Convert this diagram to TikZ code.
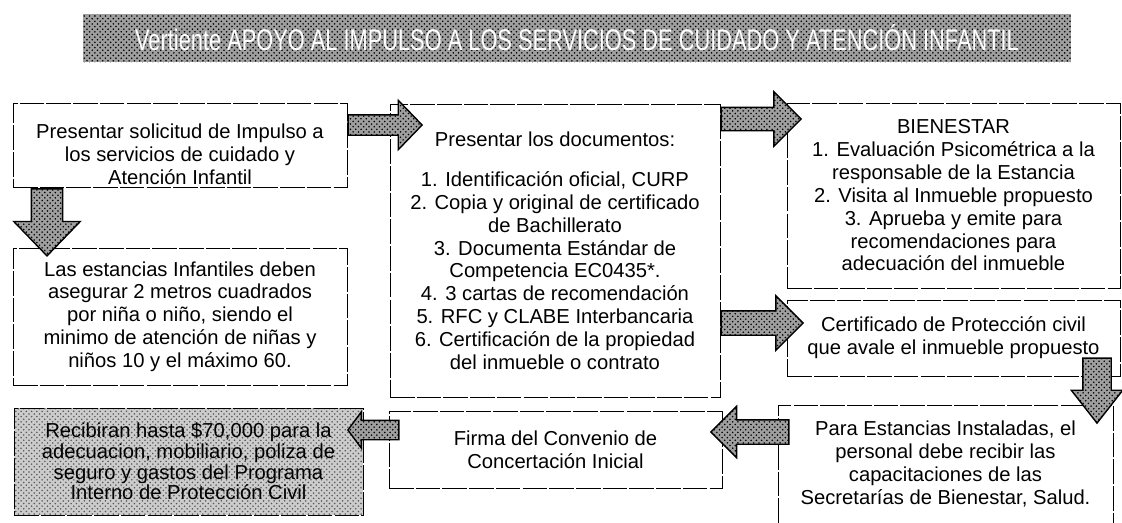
\documentclass[tikz,border=0pt]{standalone}
\usepackage{fontspec}
\setmainfont{Liberation Sans}
\usepackage{tikz}
\usetikzlibrary{shapes.arrows,patterns}

\begin{document}
\begin{tikzpicture}[x=0.02cm,y=-0.02cm,font=\fontsize{11.5}{13}\selectfont,
  paso/.style={draw,line width=0.5pt,dash pattern=on 14pt off 1.2pt,align=center,inner sep=2pt},
  textura/.style={preaction={fill=gray!75},pattern=crosshatch dots,pattern color=black},
  flecha/.style={single arrow,draw,line width=0.8pt,textura,inner sep=0pt,anchor=tail}]
  \clip (0,0) rectangle (1122,522);

  \node[textura,minimum width=19.76cm,minimum height=0.96cm] (t) at (577,38)
    {\scalebox{0.73}[1]{\fontsize{17}{17}\selectfont\color{white}Vertiente APOYO AL IMPULSO A LOS SERVICIOS DE CUIDADO Y ATENCIÓN INFANTIL}};

  \node[paso,minimum width=6.68cm,minimum height=1.66cm] (p1) at (180,145.5)
    {\rule{0pt}{18pt}Presentar solicitud de Impulso a\\los servicios de cuidado y\\Atención Infantil};
  \node[paso,minimum width=6.68cm,minimum height=2.74cm] (p2) at (180,316.5)
    {Las estancias Infantiles deben\\asegurar 2 metros cuadrados\\por niña o niño, siendo el\\minimo de atención de niñas y\\niños 10 y el máximo 60.};
  \node[paso,minimum width=6.6cm,minimum height=5.86cm] (p3) at (555,250.5)
    {Presentar los documentos:\\[10pt]1. Identificación oficial, CURP\\2. Copia y original de certificado\\de Bachillerato\\3. Documenta Estándar de\\Competencia EC0435*.\\4. 3 cartas de recomendación\\5. RFC y CLABE Interbancaria\\6. Certificación de la propiedad\\del inmueble o contrato};
  \node[paso,minimum width=6.66cm,minimum height=3.7cm] (p4) at (953.5,195.5)
    {BIENESTAR\\1. Evaluación Psicométrica a la\\responsable de la Estancia\\2. Visita al Inmueble propuesto\\3. Aprueba y emite para\\recomendaciones para\\adecuación del inmueble};
  \node[paso,minimum width=6.66cm,minimum height=1.52cm] (p5) at (953.5,338)
    {Certificado de Protección civil\\que avale el inmueble propuesto};
  \node[paso,minimum width=6.66cm,minimum height=1.54cm] (p6) at (555.5,449.5)
    {Firma del Convenio de\\Concertación Inicial};
  \node[paso,minimum width=6.7cm,minimum height=2.36cm] (p7) at (945.5,464)
    {Para Estancias Instaladas, el\\personal debe recibir las\\capacitaciones de las\\Secretarías de Bienestar, Salud.};
  \node[paso,textura,preaction={fill=gray!40},pattern color=black!65,minimum width=6.98cm,minimum height=2.14cm,
    font=\fontsize{11.5}{11.8}\selectfont] (p8) at (188.5,461.5)
    {Recibiran hasta \$70,000 para la\\adecuacion, mobiliario, poliza de\\seguro y gastos del Programa\\Interno de Protección Civil};

  % flechas entre pasos
  \node[flecha,rotate=270,minimum height=1.34cm,minimum width=1.3cm,
    single arrow head extend=0.35cm,single arrow tip angle=88] (f1) at (p1.south -| 47,0) {\rule{0pt}{0.6cm}};
  \node[flecha,minimum height=1.48cm,minimum width=0.96cm,
    single arrow head extend=0.29cm,single arrow tip angle=92] (f2) at (p1.east |- 0,125) {\rule{0pt}{0.38cm}};
  \node[flecha,minimum height=1.6cm,minimum width=1.06cm,
    single arrow head extend=0.31cm] (f3) at (p3.east |- 0,119) {\rule{0pt}{0.44cm}};
  \node[flecha,minimum height=1.64cm,minimum width=1.06cm,
    single arrow head extend=0.3cm] (f4) at (p3.east |- 0,323) {\rule{0pt}{0.46cm}};
  \node[flecha,yshift=0.38cm,rotate=270,minimum height=1.3cm,minimum width=1cm,
    single arrow head extend=0.23cm,single arrow tip angle=76] (f5) at (p5.south -| 1097,0) {\rule{0pt}{0.54cm}};
  \node[flecha,xshift=0.24cm,rotate=180,minimum height=1.56cm,minimum width=1cm,
    single arrow head extend=0.27cm] (f6) at (p7.west |- 0,432) {\rule{0pt}{0.46cm}};
  \node[flecha,xshift=0.22cm,rotate=180,minimum height=1.02cm,minimum width=0.7cm,
    single arrow head extend=0.17cm,single arrow tip angle=107] (f7) at (p6.west |- 0,430) {\rule{0pt}{0.36cm}};
\end{tikzpicture}
\end{document}
